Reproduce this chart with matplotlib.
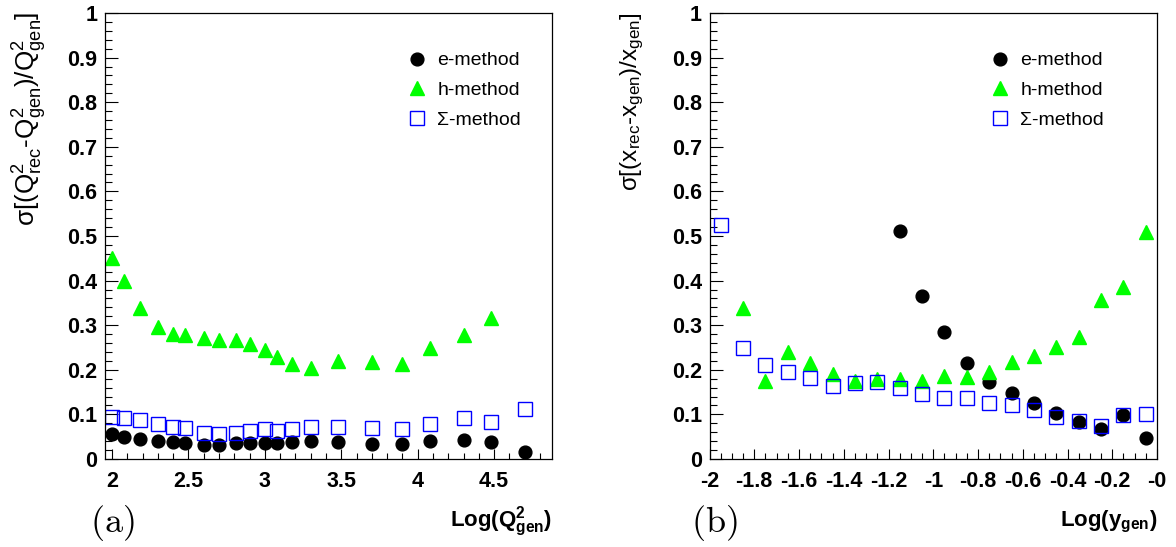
"""
Resolution of the reconstructed kinematics for the three methods
(electron, hadron, sigma) as a function of log10(Q2_gen) and log10(y_gen).
"""

import matplotlib
matplotlib.use("Agg")
import matplotlib.pyplot as plt
from matplotlib.ticker import MultipleLocator, FixedLocator, FixedFormatter, FuncFormatter


# ─────────────────────────────────────────────────────────────────────────────
#  data
# ─────────────────────────────────────────────────────────────────────────────

# panel (a): sigma[(Q2_rec - Q2_gen)/Q2_gen] vs log10(Q2_gen)
logq2 = [2.0, 2.08, 2.18, 2.3, 2.4, 2.48, 2.6, 2.7, 2.81, 2.9, 3.0,
         3.08, 3.18, 3.3, 3.48, 3.7, 3.9, 4.08, 4.3, 4.48, 4.7]
q2_e = [0.056, 0.049, 0.045, 0.041, 0.038, 0.036, 0.031, 0.031, 0.035, 0.036, 0.036,
        0.035, 0.039, 0.041, 0.038, 0.034, 0.034, 0.041, 0.042, 0.039, 0.016]
q2_h = [0.450, 0.399, 0.338, 0.295, 0.280, 0.277, 0.272, 0.266, 0.266, 0.257,
        0.244, 0.228, 0.214, 0.204, 0.219, 0.218, 0.212, 0.249, 0.277, 0.316]
q2_s = [0.095, 0.093, 0.087, 0.078, 0.072, 0.069, 0.059, 0.057, 0.059, 0.063, 0.067,
        0.063, 0.067, 0.071, 0.072, 0.069, 0.067, 0.078, 0.093, 0.082, 0.113]

# panel (b): sigma[(x_rec - x_gen)/x_gen] vs log10(y_gen)
logy = [-1.95, -1.85, -1.75, -1.65, -1.55, -1.45, -1.35, -1.25, -1.15, -1.05,
        -0.95, -0.85, -0.75, -0.65, -0.55, -0.45, -0.35, -0.25, -0.15, -0.05]
x_e = [0.512, 0.365, 0.284, 0.215, 0.172, 0.148, 0.125, 0.103, 0.084, 0.067,
       0.099, 0.047]                      # from logy = -1.15 on
x_h = [0.338, 0.174, 0.239, 0.215, 0.191, 0.174, 0.180, 0.180, 0.176, 0.187,
       0.183, 0.194, 0.218, 0.230, 0.252, 0.274, 0.356, 0.386, 0.508]   # from -1.85 on
x_s = [0.524, 0.249, 0.211, 0.196, 0.181, 0.163, 0.170, 0.172, 0.160, 0.146,
       0.136, 0.136, 0.125, 0.122, 0.109, 0.094, 0.086, 0.073, 0.098, 0.100]

logy_ticks = [-2.0, -1.8, -1.6, -1.4, -1.2, -1.0, -0.8, -0.6, -0.4, -0.2, 0.0]
logy_ticklabels = ["-2", "-1.8", "-1.6", "-1.4", "-1.2", "-1", "-0.8",
                   "-0.6", "-0.4", "-0.2", "-0"]

method_labels = ["e-method", "h-method", "Σ-method"]


# ─────────────────────────────────────────────────────────────────────────────
#  style
# ─────────────────────────────────────────────────────────────────────────────

plt.rcParams["font.family"] = ["Liberation Sans", "DejaVu Sans"]
plt.rcParams["mathtext.fontset"] = "custom"
plt.rcParams["mathtext.rm"] = "Liberation Sans"
plt.rcParams["mathtext.it"] = "Liberation Sans"
plt.rcParams["mathtext.bf"] = "Liberation Sans:bold"

TICK_FS = 15.5
TITLE_FS = 16
LEG_FS = 14

E_STYLE = dict(ls="none", marker="o", ms=9.2, color="black", mec="black")
H_STYLE = dict(ls="none", marker="^", ms=9.6, color="#00ff00", mec="#00ff00")
S_STYLE = dict(ls="none", marker="s", ms=9.6, mfc="none", mec="#0000ff", mew=1.0)


def style_axes(ax):
    for sp in ax.spines.values():
        sp.set_linewidth(0.9)
    ax.set_ylim(0, 1)
    ax.yaxis.set_major_locator(MultipleLocator(0.1))
    ax.yaxis.set_minor_locator(MultipleLocator(0.02))
    ax.yaxis.set_major_formatter(FuncFormatter(lambda v, _: f"{v:g}"))
    ax.tick_params(which="both", direction="in", top=False, right=False,
                   width=0.8, labelsize=TICK_FS)
    ax.tick_params(axis="y", which="major", length=9.2, pad=5.5)
    ax.tick_params(axis="y", which="minor", length=4.8)
    ax.tick_params(axis="x", which="major", length=7.5, pad=8.5)
    ax.tick_params(axis="x", which="minor", length=4.3)
    for lab in ax.get_xticklabels() + ax.get_yticklabels():
        lab.set_fontweight("bold")


def add_legend(ax, handles, x0):
    ax.legend(handles, method_labels, loc="upper left", bbox_to_anchor=(x0, 0.913),
              frameon=False, fontsize=LEG_FS, borderpad=0, borderaxespad=0,
              handlelength=1.0, handletextpad=0.55, labelspacing=0.62,
              numpoints=1)


fig = plt.figure(figsize=(11.76, 5.47), dpi=100)
W, H = 1176.0, 547.0
ax_a = fig.add_axes([105 / W, 88 / H, 447 / W, 446 / H])
ax_b = fig.add_axes([709.5 / W, 88 / H, 447.5 / W, 446 / H])

# ── panel (a) ──────────────────────────────────────────────────────────────
le, = ax_a.plot(logq2, q2_e, **E_STYLE)
lh, = ax_a.plot(logq2[:len(q2_h)], q2_h, **H_STYLE)
ls_, = ax_a.plot(logq2, q2_s, **S_STYLE)
ax_a.set_xlim(1.954, 4.879)
ax_a.xaxis.set_major_locator(MultipleLocator(0.5))
ax_a.xaxis.set_minor_locator(MultipleLocator(0.1))
ax_a.xaxis.set_major_formatter(FuncFormatter(lambda v, _: f"{v:g}"))
style_axes(ax_a)
add_legend(ax_a, [le, lh, ls_], 0.676)

ax_a.text(1.0, -0.141, r"Log($\mathbf{Q}^{\mathbf{2}}_{\mathbf{gen}}$)",
          transform=ax_a.transAxes, ha="right", va="center",
          fontsize=TITLE_FS, fontweight="bold")
fig.text(30 / W, 1 - 12 / H,
         r"σ[(Q$^{2}_{rec}$-Q$^{2}_{gen}$)/Q$^{2}_{gen}$]",
         rotation=90, ha="center", va="top", fontsize=18.8)
fig.text(112 / W, 1 - 523 / H, r"$(\mathrm{a})$", math_fontfamily="cm",
         fontsize=26, ha="center", va="center")

# ── panel (b) ──────────────────────────────────────────────────────────────
le, = ax_b.plot(logy[len(logy) - len(x_e):], x_e, **E_STYLE)
lh, = ax_b.plot(logy[len(logy) - len(x_h):], x_h, **H_STYLE)
ls_, = ax_b.plot(logy, x_s, **S_STYLE)
ax_b.set_xlim(-2.0, 0.0)
ax_b.xaxis.set_major_locator(FixedLocator(logy_ticks))
ax_b.xaxis.set_major_formatter(FixedFormatter(logy_ticklabels))
ax_b.xaxis.set_minor_locator(MultipleLocator(0.05))
style_axes(ax_b)
add_legend(ax_b, [le, lh, ls_], 0.627)

ax_b.text(1.0, -0.141, r"Log(y$_{\mathbf{gen}}$)",
          transform=ax_b.transAxes, ha="right", va="center",
          fontsize=TITLE_FS, fontweight="bold")
fig.text(632 / W, 1 - 12 / H,
         r"σ[(x$_{rec}$-x$_{gen}$)/x$_{gen}$]",
         rotation=90, ha="center", va="top", fontsize=17.5)
fig.text(714 / W, 1 - 523 / H, r"$(\mathrm{b})$", math_fontfamily="cm",
         fontsize=26, ha="center", va="center")

fig.savefig("out.png", dpi=100)
